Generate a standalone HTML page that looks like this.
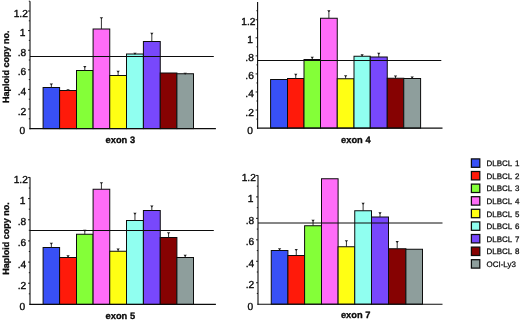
<!DOCTYPE html>
<html><head><meta charset="utf-8"><title>Haploid copy number</title>
<style>
html,body{margin:0;padding:0;background:#fff;}
body{width:520px;height:320px;overflow:hidden;font-family:"Liberation Sans",sans-serif;}
svg{display:block;will-change:transform;opacity:0.999;text-rendering:geometricPrecision;font-family:"Liberation Sans",sans-serif;}
.tk{font-size:10.2px;fill:#0a0a0a;stroke:#0a0a0a;stroke-width:0.36px;}
.ti{font-size:9.3px;font-weight:bold;fill:#0a0a0a;stroke:#0a0a0a;stroke-width:0.32px;}
.yl{font-size:9.0px;font-weight:bold;fill:#0a0a0a;stroke:#0a0a0a;stroke-width:0.32px;}
.lg{word-spacing:0.8px;font-size:7.95px;fill:#0a0a0a;stroke:#0a0a0a;stroke-width:0.25px;}
</style></head><body>
<svg width="520" height="320" viewBox="0 0 520 320">
<rect x="0" y="0" width="520" height="320" fill="#ffffff"/>
<g>
<rect x="43.10" y="87.50" width="16.50" height="41.10" fill="#3850f6" stroke="#0c0c0c" stroke-width="1"/>
<path d="M51.35 87.50V84.25" stroke="#1c1c1c" stroke-width="0.9" fill="none"/><path d="M49.70 83.55H53.00L51.65 85.35H51.05Z" fill="#1c1c1c"/>
<rect x="59.60" y="90.50" width="16.90" height="38.10" fill="#ff1a0a" stroke="#0c0c0c" stroke-width="1"/>
<path d="M68.05 90.50V90.00" stroke="#1c1c1c" stroke-width="0.9" fill="none"/><path d="M66.40 89.30H69.70L68.35 91.10H67.75Z" fill="#1c1c1c"/>
<rect x="76.50" y="70.50" width="16.60" height="58.10" fill="#84ff38" stroke="#0c0c0c" stroke-width="1"/>
<path d="M84.80 70.50V66.75" stroke="#1c1c1c" stroke-width="0.9" fill="none"/><path d="M83.15 66.05H86.45L85.10 67.85H84.50Z" fill="#1c1c1c"/>
<rect x="93.10" y="29.00" width="16.65" height="99.60" fill="#ff6cf8" stroke="#0c0c0c" stroke-width="1"/>
<path d="M101.42 29.00V18.00" stroke="#1c1c1c" stroke-width="0.9" fill="none"/><path d="M99.77 17.30H103.08L101.72 19.10H101.12Z" fill="#1c1c1c"/>
<rect x="109.75" y="75.50" width="16.75" height="53.10" fill="#ffff14" stroke="#0c0c0c" stroke-width="1"/>
<path d="M118.12 75.50V71.50" stroke="#1c1c1c" stroke-width="0.9" fill="none"/><path d="M116.47 70.80H119.78L118.42 72.60H117.83Z" fill="#1c1c1c"/>
<rect x="126.50" y="54.00" width="16.90" height="74.60" fill="#90fff0" stroke="#0c0c0c" stroke-width="1"/>
<path d="M134.95 54.00V53.50" stroke="#1c1c1c" stroke-width="0.9" fill="none"/><path d="M133.30 52.80H136.60L135.25 54.60H134.65Z" fill="#1c1c1c"/>
<rect x="143.40" y="41.50" width="16.85" height="87.10" fill="#7848fc" stroke="#0c0c0c" stroke-width="1"/>
<path d="M151.82 41.50V33.50" stroke="#1c1c1c" stroke-width="0.9" fill="none"/><path d="M150.17 32.80H153.47L152.12 34.60H151.52Z" fill="#1c1c1c"/>
<rect x="160.25" y="73.00" width="16.65" height="55.60" fill="#860202" stroke="#0c0c0c" stroke-width="1"/>
<rect x="176.90" y="73.75" width="16.60" height="54.85" fill="#8e9e9c" stroke="#0c0c0c" stroke-width="1"/>
<path d="M185.20 73.75V73.50" stroke="#1c1c1c" stroke-width="0.9" fill="none"/><path d="M183.55 72.80H186.85L185.50 74.60H184.90Z" fill="#1c1c1c"/>
<line x1="30.00" y1="56.50" x2="213.80" y2="56.50" stroke="#0c0c0c" stroke-width="1"/>
<line x1="30.00" y1="1.20" x2="30.00" y2="129.20" stroke="#0c0c0c" stroke-width="1.1"/>
<line x1="29.40" y1="128.60" x2="215.90" y2="128.60" stroke="#0c0c0c" stroke-width="1.1"/>
<line x1="28.80" y1="118.80" x2="30.00" y2="118.80" stroke="#0c0c0c" stroke-width="0.9"/>
<line x1="28.00" y1="109.00" x2="30.00" y2="109.00" stroke="#0c0c0c" stroke-width="0.9"/>
<line x1="28.80" y1="99.20" x2="30.00" y2="99.20" stroke="#0c0c0c" stroke-width="0.9"/>
<line x1="28.00" y1="89.40" x2="30.00" y2="89.40" stroke="#0c0c0c" stroke-width="0.9"/>
<line x1="28.80" y1="79.60" x2="30.00" y2="79.60" stroke="#0c0c0c" stroke-width="0.9"/>
<line x1="28.00" y1="69.80" x2="30.00" y2="69.80" stroke="#0c0c0c" stroke-width="0.9"/>
<line x1="28.80" y1="60.00" x2="30.00" y2="60.00" stroke="#0c0c0c" stroke-width="0.9"/>
<line x1="28.00" y1="50.20" x2="30.00" y2="50.20" stroke="#0c0c0c" stroke-width="0.9"/>
<line x1="28.80" y1="40.40" x2="30.00" y2="40.40" stroke="#0c0c0c" stroke-width="0.9"/>
<line x1="28.00" y1="30.60" x2="30.00" y2="30.60" stroke="#0c0c0c" stroke-width="0.9"/>
<line x1="28.80" y1="20.80" x2="30.00" y2="20.80" stroke="#0c0c0c" stroke-width="0.9"/>
<line x1="28.00" y1="11.00" x2="30.00" y2="11.00" stroke="#0c0c0c" stroke-width="0.9"/>
<line x1="28.80" y1="1.20" x2="30.00" y2="1.20" stroke="#0c0c0c" stroke-width="0.9"/>
<text class="tk" x="20.80" y="16.50" text-anchor="middle">1.2</text>
<text class="tk" x="22.60" y="36.10" text-anchor="middle">1</text>
<text class="tk" x="22.00" y="55.70" text-anchor="middle">.8</text>
<text class="tk" x="22.00" y="75.30" text-anchor="middle">.6</text>
<text class="tk" x="22.00" y="94.90" text-anchor="middle">.4</text>
<text class="tk" x="22.00" y="114.50" text-anchor="middle">.2</text>
<text class="tk" x="22.40" y="134.10" text-anchor="middle">0</text>
<text class="ti" x="105.60" y="142.50">exon 3</text>
<text class="yl" transform="translate(9.00 66.75) rotate(-90)" text-anchor="middle">Haploid copy no.</text>
</g>
<g>
<rect x="270.60" y="79.50" width="16.90" height="48.60" fill="#3850f6" stroke="#0c0c0c" stroke-width="1"/>
<rect x="287.50" y="78.50" width="16.50" height="49.60" fill="#ff1a0a" stroke="#0c0c0c" stroke-width="1"/>
<path d="M295.75 78.50V74.50" stroke="#1c1c1c" stroke-width="0.9" fill="none"/><path d="M294.10 73.80H297.40L296.05 75.60H295.45Z" fill="#1c1c1c"/>
<rect x="304.00" y="59.50" width="16.50" height="68.60" fill="#84ff38" stroke="#0c0c0c" stroke-width="1"/>
<path d="M312.25 59.50V57.50" stroke="#1c1c1c" stroke-width="0.9" fill="none"/><path d="M310.60 56.80H313.90L312.55 58.60H311.95Z" fill="#1c1c1c"/>
<rect x="320.50" y="18.25" width="16.75" height="109.85" fill="#ff6cf8" stroke="#0c0c0c" stroke-width="1"/>
<path d="M328.88 18.25V11.00" stroke="#1c1c1c" stroke-width="0.9" fill="none"/><path d="M327.23 10.30H330.52L329.18 12.10H328.57Z" fill="#1c1c1c"/>
<rect x="337.25" y="78.75" width="16.75" height="49.35" fill="#ffff14" stroke="#0c0c0c" stroke-width="1"/>
<path d="M345.62 78.75V76.00" stroke="#1c1c1c" stroke-width="0.9" fill="none"/><path d="M343.98 75.30H347.27L345.93 77.10H345.32Z" fill="#1c1c1c"/>
<rect x="354.00" y="56.25" width="16.25" height="71.85" fill="#90fff0" stroke="#0c0c0c" stroke-width="1"/>
<path d="M362.12 56.25V55.00" stroke="#1c1c1c" stroke-width="0.9" fill="none"/><path d="M360.48 54.30H363.77L362.43 56.10H361.82Z" fill="#1c1c1c"/>
<rect x="370.25" y="57.00" width="17.00" height="71.10" fill="#7848fc" stroke="#0c0c0c" stroke-width="1"/>
<path d="M378.75 57.00V53.50" stroke="#1c1c1c" stroke-width="0.9" fill="none"/><path d="M377.10 52.80H380.40L379.05 54.60H378.45Z" fill="#1c1c1c"/>
<rect x="387.25" y="78.25" width="16.50" height="49.85" fill="#860202" stroke="#0c0c0c" stroke-width="1"/>
<path d="M395.50 78.25V76.25" stroke="#1c1c1c" stroke-width="0.9" fill="none"/><path d="M393.85 75.55H397.15L395.80 77.35H395.20Z" fill="#1c1c1c"/>
<rect x="403.75" y="78.50" width="16.85" height="49.60" fill="#8e9e9c" stroke="#0c0c0c" stroke-width="1"/>
<path d="M412.18 78.50V77.25" stroke="#1c1c1c" stroke-width="0.9" fill="none"/><path d="M410.53 76.55H413.82L412.48 78.35H411.88Z" fill="#1c1c1c"/>
<line x1="257.60" y1="60.50" x2="441.30" y2="60.50" stroke="#0c0c0c" stroke-width="1"/>
<line x1="257.60" y1="2.00" x2="257.60" y2="128.70" stroke="#0c0c0c" stroke-width="1.1"/>
<line x1="257.00" y1="128.10" x2="442.50" y2="128.10" stroke="#0c0c0c" stroke-width="1.1"/>
<line x1="256.40" y1="119.07" x2="257.60" y2="119.07" stroke="#0c0c0c" stroke-width="0.9"/>
<line x1="255.60" y1="110.04" x2="257.60" y2="110.04" stroke="#0c0c0c" stroke-width="0.9"/>
<line x1="256.40" y1="101.01" x2="257.60" y2="101.01" stroke="#0c0c0c" stroke-width="0.9"/>
<line x1="255.60" y1="91.98" x2="257.60" y2="91.98" stroke="#0c0c0c" stroke-width="0.9"/>
<line x1="256.40" y1="82.95" x2="257.60" y2="82.95" stroke="#0c0c0c" stroke-width="0.9"/>
<line x1="255.60" y1="73.92" x2="257.60" y2="73.92" stroke="#0c0c0c" stroke-width="0.9"/>
<line x1="256.40" y1="64.89" x2="257.60" y2="64.89" stroke="#0c0c0c" stroke-width="0.9"/>
<line x1="255.60" y1="55.86" x2="257.60" y2="55.86" stroke="#0c0c0c" stroke-width="0.9"/>
<line x1="256.40" y1="46.83" x2="257.60" y2="46.83" stroke="#0c0c0c" stroke-width="0.9"/>
<line x1="255.60" y1="37.80" x2="257.60" y2="37.80" stroke="#0c0c0c" stroke-width="0.9"/>
<line x1="256.40" y1="28.77" x2="257.60" y2="28.77" stroke="#0c0c0c" stroke-width="0.9"/>
<line x1="255.60" y1="19.74" x2="257.60" y2="19.74" stroke="#0c0c0c" stroke-width="0.9"/>
<line x1="256.40" y1="10.71" x2="257.60" y2="10.71" stroke="#0c0c0c" stroke-width="0.9"/>
<text class="tk" x="248.40" y="25.24" text-anchor="middle">1.2</text>
<text class="tk" x="250.20" y="43.30" text-anchor="middle">1</text>
<text class="tk" x="249.60" y="61.36" text-anchor="middle">.8</text>
<text class="tk" x="249.60" y="79.42" text-anchor="middle">.6</text>
<text class="tk" x="249.60" y="97.48" text-anchor="middle">.4</text>
<text class="tk" x="249.60" y="115.54" text-anchor="middle">.2</text>
<text class="tk" x="250.00" y="133.60" text-anchor="middle">0</text>
<text class="ti" x="341.10" y="142.50">exon 4</text>
</g>
<g>
<rect x="43.10" y="247.50" width="16.50" height="56.90" fill="#3850f6" stroke="#0c0c0c" stroke-width="1"/>
<path d="M51.35 247.50V243.50" stroke="#1c1c1c" stroke-width="0.9" fill="none"/><path d="M49.70 242.80H53.00L51.65 244.60H51.05Z" fill="#1c1c1c"/>
<rect x="59.60" y="257.50" width="16.90" height="46.90" fill="#ff1a0a" stroke="#0c0c0c" stroke-width="1"/>
<path d="M68.05 257.50V256.00" stroke="#1c1c1c" stroke-width="0.9" fill="none"/><path d="M66.40 255.30H69.70L68.35 257.10H67.75Z" fill="#1c1c1c"/>
<rect x="76.50" y="234.25" width="16.60" height="70.15" fill="#84ff38" stroke="#0c0c0c" stroke-width="1"/>
<path d="M84.80 234.25V230.50" stroke="#1c1c1c" stroke-width="0.9" fill="none"/><path d="M83.15 229.80H86.45L85.10 231.60H84.50Z" fill="#1c1c1c"/>
<rect x="93.10" y="189.25" width="16.65" height="115.15" fill="#ff6cf8" stroke="#0c0c0c" stroke-width="1"/>
<path d="M101.42 189.25V183.00" stroke="#1c1c1c" stroke-width="0.9" fill="none"/><path d="M99.77 182.30H103.08L101.72 184.10H101.12Z" fill="#1c1c1c"/>
<rect x="109.75" y="251.25" width="16.75" height="53.15" fill="#ffff14" stroke="#0c0c0c" stroke-width="1"/>
<path d="M118.12 251.25V249.25" stroke="#1c1c1c" stroke-width="0.9" fill="none"/><path d="M116.47 248.55H119.78L118.42 250.35H117.83Z" fill="#1c1c1c"/>
<rect x="126.50" y="220.50" width="16.90" height="83.90" fill="#90fff0" stroke="#0c0c0c" stroke-width="1"/>
<path d="M134.95 220.50V213.50" stroke="#1c1c1c" stroke-width="0.9" fill="none"/><path d="M133.30 212.80H136.60L135.25 214.60H134.65Z" fill="#1c1c1c"/>
<rect x="143.40" y="210.50" width="16.85" height="93.90" fill="#7848fc" stroke="#0c0c0c" stroke-width="1"/>
<path d="M151.82 210.50V206.25" stroke="#1c1c1c" stroke-width="0.9" fill="none"/><path d="M150.17 205.55H153.47L152.12 207.35H151.52Z" fill="#1c1c1c"/>
<rect x="160.25" y="237.50" width="16.65" height="66.90" fill="#860202" stroke="#0c0c0c" stroke-width="1"/>
<path d="M168.57 237.50V233.00" stroke="#1c1c1c" stroke-width="0.9" fill="none"/><path d="M166.92 232.30H170.22L168.88 234.10H168.27Z" fill="#1c1c1c"/>
<rect x="176.90" y="257.50" width="16.60" height="46.90" fill="#8e9e9c" stroke="#0c0c0c" stroke-width="1"/>
<path d="M185.20 257.50V255.50" stroke="#1c1c1c" stroke-width="0.9" fill="none"/><path d="M183.55 254.80H186.85L185.50 256.60H184.90Z" fill="#1c1c1c"/>
<line x1="30.00" y1="230.50" x2="213.80" y2="230.50" stroke="#0c0c0c" stroke-width="1"/>
<line x1="30.00" y1="177.30" x2="30.00" y2="305.00" stroke="#0c0c0c" stroke-width="1.1"/>
<line x1="29.40" y1="304.40" x2="215.90" y2="304.40" stroke="#0c0c0c" stroke-width="1.1"/>
<line x1="28.80" y1="293.82" x2="30.00" y2="293.82" stroke="#0c0c0c" stroke-width="0.9"/>
<line x1="28.00" y1="283.24" x2="30.00" y2="283.24" stroke="#0c0c0c" stroke-width="0.9"/>
<line x1="28.80" y1="272.66" x2="30.00" y2="272.66" stroke="#0c0c0c" stroke-width="0.9"/>
<line x1="28.00" y1="262.08" x2="30.00" y2="262.08" stroke="#0c0c0c" stroke-width="0.9"/>
<line x1="28.80" y1="251.50" x2="30.00" y2="251.50" stroke="#0c0c0c" stroke-width="0.9"/>
<line x1="28.00" y1="240.92" x2="30.00" y2="240.92" stroke="#0c0c0c" stroke-width="0.9"/>
<line x1="28.80" y1="230.34" x2="30.00" y2="230.34" stroke="#0c0c0c" stroke-width="0.9"/>
<line x1="28.00" y1="219.76" x2="30.00" y2="219.76" stroke="#0c0c0c" stroke-width="0.9"/>
<line x1="28.80" y1="209.18" x2="30.00" y2="209.18" stroke="#0c0c0c" stroke-width="0.9"/>
<line x1="28.00" y1="198.60" x2="30.00" y2="198.60" stroke="#0c0c0c" stroke-width="0.9"/>
<line x1="28.80" y1="188.02" x2="30.00" y2="188.02" stroke="#0c0c0c" stroke-width="0.9"/>
<line x1="28.00" y1="177.44" x2="30.00" y2="177.44" stroke="#0c0c0c" stroke-width="0.9"/>
<text class="tk" x="20.80" y="182.94" text-anchor="middle">1.2</text>
<text class="tk" x="22.60" y="204.10" text-anchor="middle">1</text>
<text class="tk" x="22.00" y="225.26" text-anchor="middle">.8</text>
<text class="tk" x="22.00" y="246.42" text-anchor="middle">.6</text>
<text class="tk" x="22.00" y="267.58" text-anchor="middle">.4</text>
<text class="tk" x="22.00" y="288.74" text-anchor="middle">.2</text>
<text class="tk" x="22.40" y="309.90" text-anchor="middle">0</text>
<text class="ti" x="105.60" y="318.75">exon 5</text>
<text class="yl" transform="translate(9.00 238.40) rotate(-90)" text-anchor="middle">Haploid copy no.</text>
</g>
<g>
<rect x="271.25" y="250.50" width="16.65" height="53.70" fill="#3850f6" stroke="#0c0c0c" stroke-width="1"/>
<path d="M279.57 250.50V249.00" stroke="#1c1c1c" stroke-width="0.9" fill="none"/><path d="M277.93 248.30H281.22L279.88 250.10H279.27Z" fill="#1c1c1c"/>
<rect x="287.90" y="255.50" width="16.70" height="48.70" fill="#ff1a0a" stroke="#0c0c0c" stroke-width="1"/>
<path d="M296.25 255.50V249.75" stroke="#1c1c1c" stroke-width="0.9" fill="none"/><path d="M294.60 249.05H297.90L296.55 250.85H295.95Z" fill="#1c1c1c"/>
<rect x="304.60" y="225.75" width="16.90" height="78.45" fill="#84ff38" stroke="#0c0c0c" stroke-width="1"/>
<path d="M313.05 225.75V220.50" stroke="#1c1c1c" stroke-width="0.9" fill="none"/><path d="M311.40 219.80H314.70L313.35 221.60H312.75Z" fill="#1c1c1c"/>
<rect x="321.50" y="178.75" width="16.60" height="125.45" fill="#ff6cf8" stroke="#0c0c0c" stroke-width="1"/>
<rect x="338.10" y="246.75" width="16.65" height="57.45" fill="#ffff14" stroke="#0c0c0c" stroke-width="1"/>
<path d="M346.43 246.75V241.00" stroke="#1c1c1c" stroke-width="0.9" fill="none"/><path d="M344.78 240.30H348.07L346.73 242.10H346.12Z" fill="#1c1c1c"/>
<rect x="354.75" y="210.75" width="16.75" height="93.45" fill="#90fff0" stroke="#0c0c0c" stroke-width="1"/>
<path d="M363.12 210.75V203.50" stroke="#1c1c1c" stroke-width="0.9" fill="none"/><path d="M361.48 202.80H364.77L363.43 204.60H362.82Z" fill="#1c1c1c"/>
<rect x="371.50" y="217.00" width="17.00" height="87.20" fill="#7848fc" stroke="#0c0c0c" stroke-width="1"/>
<path d="M380.00 217.00V213.00" stroke="#1c1c1c" stroke-width="0.9" fill="none"/><path d="M378.35 212.30H381.65L380.30 214.10H379.70Z" fill="#1c1c1c"/>
<rect x="388.50" y="248.75" width="17.40" height="55.45" fill="#860202" stroke="#0c0c0c" stroke-width="1"/>
<path d="M397.20 248.75V241.75" stroke="#1c1c1c" stroke-width="0.9" fill="none"/><path d="M395.55 241.05H398.85L397.50 242.85H396.90Z" fill="#1c1c1c"/>
<rect x="405.90" y="249.25" width="16.60" height="54.95" fill="#8e9e9c" stroke="#0c0c0c" stroke-width="1"/>
<line x1="258.00" y1="223.00" x2="442.50" y2="223.00" stroke="#0c0c0c" stroke-width="1"/>
<line x1="258.00" y1="175.20" x2="258.00" y2="304.80" stroke="#0c0c0c" stroke-width="1.1"/>
<line x1="257.40" y1="304.20" x2="442.50" y2="304.20" stroke="#0c0c0c" stroke-width="1.1"/>
<line x1="256.80" y1="293.47" x2="258.00" y2="293.47" stroke="#0c0c0c" stroke-width="0.9"/>
<line x1="256.00" y1="282.74" x2="258.00" y2="282.74" stroke="#0c0c0c" stroke-width="0.9"/>
<line x1="256.80" y1="272.01" x2="258.00" y2="272.01" stroke="#0c0c0c" stroke-width="0.9"/>
<line x1="256.00" y1="261.28" x2="258.00" y2="261.28" stroke="#0c0c0c" stroke-width="0.9"/>
<line x1="256.80" y1="250.55" x2="258.00" y2="250.55" stroke="#0c0c0c" stroke-width="0.9"/>
<line x1="256.00" y1="239.82" x2="258.00" y2="239.82" stroke="#0c0c0c" stroke-width="0.9"/>
<line x1="256.80" y1="229.09" x2="258.00" y2="229.09" stroke="#0c0c0c" stroke-width="0.9"/>
<line x1="256.00" y1="218.36" x2="258.00" y2="218.36" stroke="#0c0c0c" stroke-width="0.9"/>
<line x1="256.80" y1="207.63" x2="258.00" y2="207.63" stroke="#0c0c0c" stroke-width="0.9"/>
<line x1="256.00" y1="196.90" x2="258.00" y2="196.90" stroke="#0c0c0c" stroke-width="0.9"/>
<line x1="256.80" y1="186.17" x2="258.00" y2="186.17" stroke="#0c0c0c" stroke-width="0.9"/>
<line x1="256.00" y1="175.44" x2="258.00" y2="175.44" stroke="#0c0c0c" stroke-width="0.9"/>
<text class="tk" x="248.80" y="180.94" text-anchor="middle">1.2</text>
<text class="tk" x="250.60" y="202.40" text-anchor="middle">1</text>
<text class="tk" x="250.00" y="223.86" text-anchor="middle">.8</text>
<text class="tk" x="250.00" y="245.32" text-anchor="middle">.6</text>
<text class="tk" x="250.00" y="266.78" text-anchor="middle">.4</text>
<text class="tk" x="250.00" y="288.24" text-anchor="middle">.2</text>
<text class="tk" x="250.40" y="309.70" text-anchor="middle">0</text>
<text class="ti" x="340.90" y="317.60">exon 7</text>
</g>
<g>
<rect x="471.4" y="158.90" width="8.4" height="8.4" fill="#3850f6" stroke="#0c0c0c" stroke-width="1.25"/>
<text class="lg" x="486.6" y="166.10">DLBCL 1</text>
<rect x="471.4" y="171.50" width="8.4" height="8.4" fill="#ff1a0a" stroke="#0c0c0c" stroke-width="1.25"/>
<text class="lg" x="486.6" y="178.70">DLBCL 2</text>
<rect x="471.4" y="184.10" width="8.4" height="8.4" fill="#84ff38" stroke="#0c0c0c" stroke-width="1.25"/>
<text class="lg" x="486.6" y="191.30">DLBCL 3</text>
<rect x="471.4" y="196.70" width="8.4" height="8.4" fill="#ff6cf8" stroke="#0c0c0c" stroke-width="1.25"/>
<text class="lg" x="486.6" y="203.90">DLBCL 4</text>
<rect x="471.4" y="209.30" width="8.4" height="8.4" fill="#ffff14" stroke="#0c0c0c" stroke-width="1.25"/>
<text class="lg" x="486.6" y="216.50">DLBCL 5</text>
<rect x="471.4" y="221.90" width="8.4" height="8.4" fill="#90fff0" stroke="#0c0c0c" stroke-width="1.25"/>
<text class="lg" x="486.6" y="229.10">DLBCL 6</text>
<rect x="471.4" y="234.50" width="8.4" height="8.4" fill="#7848fc" stroke="#0c0c0c" stroke-width="1.25"/>
<text class="lg" x="486.6" y="241.70">DLBCL 7</text>
<rect x="471.4" y="247.10" width="8.4" height="8.4" fill="#860202" stroke="#0c0c0c" stroke-width="1.25"/>
<text class="lg" x="486.6" y="254.30">DLBCL 8</text>
<rect x="471.4" y="259.70" width="8.4" height="8.4" fill="#8e9e9c" stroke="#0c0c0c" stroke-width="1.25"/>
<text class="lg" x="486.6" y="266.90">OCI-Ly3</text>
</g>
</svg></body></html>
